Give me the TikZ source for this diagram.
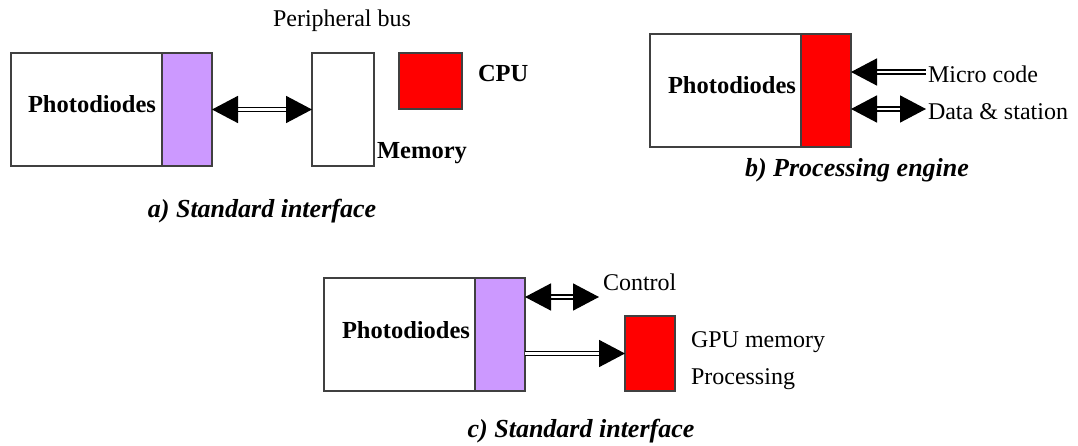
\documentclass[tikz,border=0pt]{standalone}
\usepackage{fontspec}
\setmainfont{Liberation Serif}
\usetikzlibrary{arrows.meta}
\definecolor{lilac}{HTML}{CC99FF}
\definecolor{pred}{HTML}{FF0000}
\definecolor{boxline}{HTML}{404040}
\tikzset{
  box/.style={draw=boxline, line width=1.2pt, inner sep=0pt, outer sep=0pt, anchor=north west},
  txt/.style={inner sep=0pt, outer sep=0pt, font=\fontsize{24}{28}\selectfont},
  btxt/.style={txt, font=\fontsize{24.5}{28}\selectfont\bfseries},
  captxt/.style={txt, font=\fontsize{26}{30}\selectfont\bfseries\itshape},
  dbl/.style={draw=black, line width=1.6pt, double=white, double distance=2.2pt},
  tip/.tip={Triangle[length=26pt, width=27pt]},
}
\begin{document}
\begin{tikzpicture}[x=1pt, y=-1pt]
\useasboundingbox[fill=white] (0,0) rectangle (1078,446);

% ---- (a) ----
\node[box, fill=white, minimum width=151pt, minimum height=113pt] (pda) at (11,53) {};
\node[box, fill=lilac, minimum width=50pt, minimum height=113pt] (ifa) at (162,53) {};
\node[box, fill=white, minimum width=62pt, minimum height=113pt] (mem) at (312,53) {};
\node[box, fill=pred, minimum width=63pt, minimum height=56pt] (cpu) at (399,53) {};
\node[btxt, anchor=base] (pdta) at (92,113) {Photodiodes};
\node[txt, anchor=base] (pbus) at (342,27) {Peripheral bus};
\node[btxt, anchor=base west] (cput) at (478,82) {CPU};
\node[btxt, anchor=base] (memt) at (422,159) {Memory};
\node[captxt, anchor=base] (capa) at (262,218) {a) Standard interface};
\draw[dbl, {tip}-{tip}] (ifa.east) -- (mem.west);

% ---- (b) ----
\node[box, fill=white, minimum width=151pt, minimum height=113pt] (pdb) at (650,34) {};
\node[box, fill=pred, minimum width=50pt, minimum height=113pt] (peb) at (801,34) {};
\node[btxt, anchor=base] (pdtb) at (732,94) {Photodiodes};
\node[txt, anchor=base west] (mct) at (928,83) {Micro code};
\node[txt, anchor=base west] (dst) at (928,120) {Data \& station};
\coordinate (mcend) at (926,72);
\coordinate (dsend) at (926,109);
\node[captxt, anchor=base] (capb) at (857,177) {b) Processing engine};
\draw[dbl, {tip}-] (peb.east |- mcend) -- (mcend);
\draw[dbl, {tip}-{tip}] (peb.east |- dsend) -- (dsend);

% ---- (c) ----
\node[box, fill=white, minimum width=151pt, minimum height=113pt] (pdc) at (324,278) {};
\node[box, fill=lilac, minimum width=50pt, minimum height=113pt] (ifc) at (475,278) {};
\node[box, fill=pred, minimum width=50pt, minimum height=75pt] (gpu) at (625,316) {};
\node[btxt, anchor=base] (pdtc) at (406,338) {Photodiodes};
\node[txt, anchor=base west] (ctl) at (603,290) {Control};
\node[txt, anchor=base west] (gpum) at (691,347) {GPU memory};
\node[txt, anchor=base west] (proc) at (691,384) {Processing};
\coordinate (ctlend) at (599,297);
\node[captxt, anchor=base] (capc) at (581,437) {c) Standard interface};
\draw[dbl, {tip}-{tip}] (ifc.east |- ctlend) -- (ctlend);
\draw[dbl, -{tip}] (ifc.east |- gpu.west) -- (gpu.west);
\end{tikzpicture}
\end{document}
